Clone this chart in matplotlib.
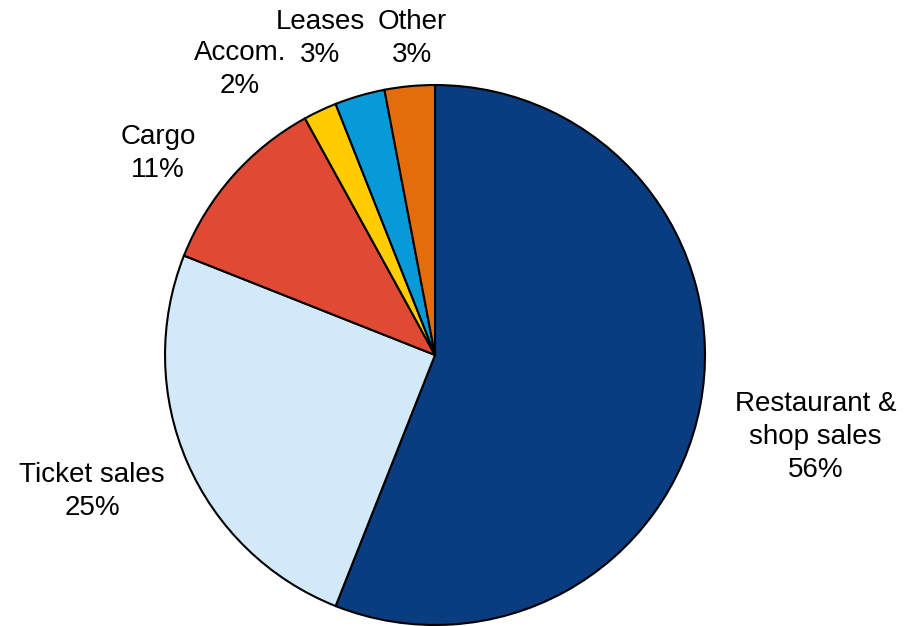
import matplotlib.pyplot as plt

plt.rcParams['font.family'] = ['Liberation Sans', 'DejaVu Sans']

# revenue split, clockwise from 12 o'clock
categories = ["Restaurant &\nshop sales", "Ticket sales", "Cargo", "Accom.", "Leases", "Other"]
shares = [56, 25, 11, 2, 3, 3]
colors = ["#0a3d7f", "#d2e9f9", "#e04a34", "#ffcc00", "#069ad8", "#e46c0a"]

# where each label sits (pie radius = 1)
label_pos = [(1.41, -0.304), (-1.27, -0.507), (-1.026, 0.748),
             (-0.722, 1.056), (-0.426, 1.174), (-0.085, 1.174)]

fig = plt.figure(figsize=(9.24, 6.26), dpi=100)
ax = fig.add_axes([0.1786, 0.0016, 0.5844, 0.8626])

ax.pie(shares, colors=colors, startangle=90, counterclock=False,
       wedgeprops=dict(edgecolor="black", linewidth=1.5))

for name, val, (x, y) in zip(categories, shares, label_pos):
    ax.text(x, y, f"{name}\n{val}%", ha="center", va="center",
            fontsize=20, linespacing=1.35)

ax.set_xlim(-1, 1)
ax.set_ylim(-1, 1)
ax.set_aspect("equal")
ax.axis("off")

fig.savefig("out.png", dpi=100)
